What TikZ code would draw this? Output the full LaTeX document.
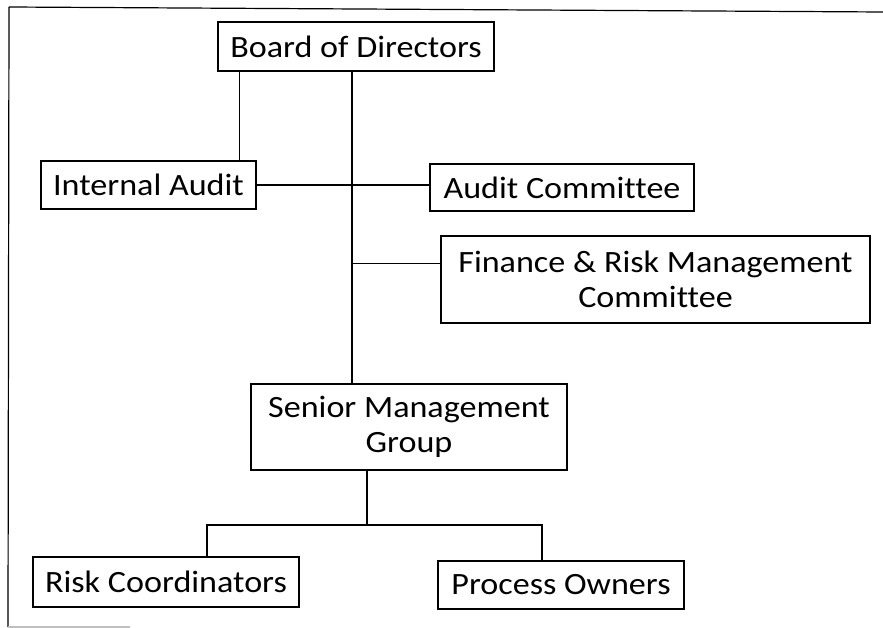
\documentclass[tikz,border=0pt]{standalone}
\usepackage{fontspec}
\setmainfont{Carlito}[FakeStretch=1.1, Ligatures=CommonOff]
\usepackage{tikz}
\usetikzlibrary{positioning}
\tikzset{
		org box/.style={draw, line width=1.4pt, align=center, inner sep=0pt, font=\fontsize{31}{35}\selectfont},
		link/.style={line width=1.3pt},
		frame line/.style={line width=1.2pt}
	}

\begin{document}
\begin{tikzpicture}[x=1pt, y=-1pt]
				\useasboundingbox (0,0) rectangle (883,628);
				\node[org box, minimum width=276pt, minimum height=49pt] (board)    at (356,46.5)  {Board of Directors};
				\node[org box, minimum width=215pt, minimum height=48pt] (internal) at (148.5,185) {Internal Audit};
				\node[org box, minimum width=264pt, minimum height=47pt] (auditc)   at (562,187.5) {Audit Committee};
				\node[org box, minimum width=429pt, minimum height=87pt] (finance)  at (655.5,279.5) {Finance \& Risk Management\\Committee};
				\node[org box, minimum width=316pt, minimum height=86pt] (senior)   at (409,427)   {Senior Management\\Group};
				\node[org box, minimum width=266pt, minimum height=50pt] (risk)     at (166,582)   {Risk Coordinators};
				\node[org box, minimum width=246pt, minimum height=48pt] (process)  at (561,585)   {Process Owners};
				\coordinate (fork) at (367,525);
				
				\draw[frame line] (9,7) -- (883,12);
				\draw[frame line] (9,7) -- (8,627);
				\draw[frame line, gray!50] (8,627) -- (130,627);
				
				\draw[link] ([xshift=-4pt]board.south) -- ([xshift=-4pt]board.south |- senior.north);
				\draw[link] ([xshift=22pt]board.south west) -- ([xshift=22pt]board.south west |- internal.north);
				\draw[link] (internal.east) -- (internal.east -| auditc.west);
				\draw[link] ([xshift=-4pt,yshift=16pt]board.south |- finance.west) -- ([yshift=16pt]finance.west);
				\draw[link] (fork |- senior.south) -- (fork);
				\draw[link] ([xshift=41pt]risk.north) |- (fork) -| ([xshift=-19pt]process.north);
			\end{tikzpicture}
\end{document}
